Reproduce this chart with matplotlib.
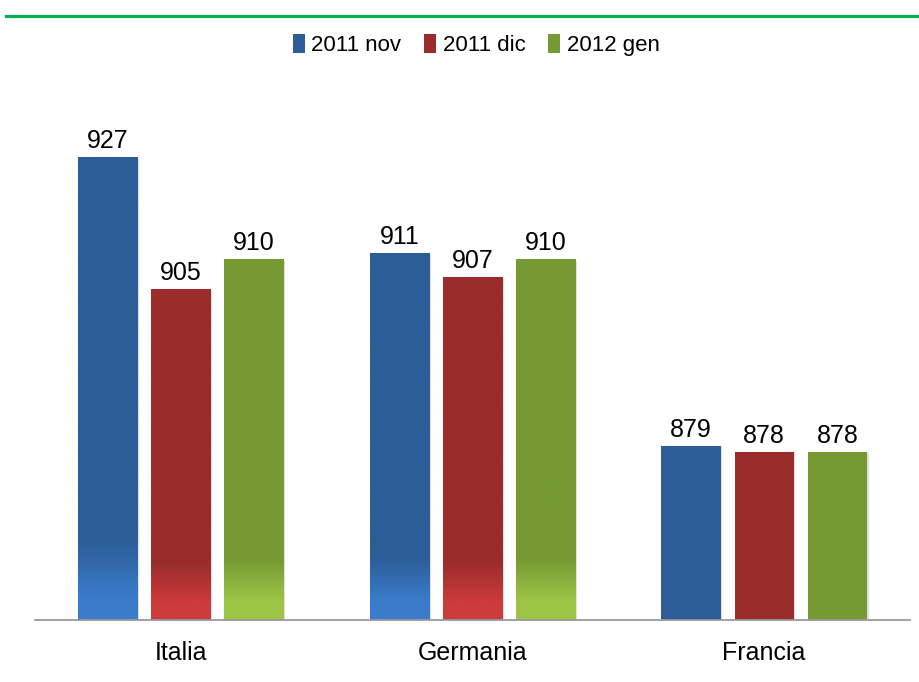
import numpy as np
import matplotlib
matplotlib.use("Agg")
import matplotlib.pyplot as plt
from matplotlib.patches import Patch
from matplotlib.lines import Line2D
from matplotlib.colors import to_rgb
import matplotlib.patheffects as pe

plt.rcParams['font.family'] = ['Liberation Sans Narrow', 'Liberation Sans', 'DejaVu Sans']

countries = ["Italia", "Germania", "Francia"]
series = ["2011 nov", "2011 dic", "2012 gen"]
nov_2011 = [927, 911, 879]
dic_2011 = [905, 907, 878]
gen_2012 = [910, 910, 878]
values = [nov_2011, dic_2011, gen_2012]

dark = ["#2C5D96", "#9A2C2C", "#779934"]
light = ["#3A7CCB", "#CE3B3B", "#9DC445"]
# countries whose bars carry the lighter fade at the base
faded = [True, True, False]

fig = plt.figure(figsize=(9.2, 6.82), dpi=100)
ax = fig.add_axes([35 / 920, 62 / 682, 875 / 920, 541 / 682])

x = np.arange(len(countries))
width = 0.203
step = 0.251
ymin, ymax = 850, 940

for i, (vals, c_dark, c_light) in enumerate(zip(values, dark, light)):
    bars = ax.bar(x + (i - 1) * step, np.array(vals) - ymin, width, bottom=ymin,
                  color=c_dark, zorder=2,
                  path_effects=[pe.SimplePatchShadow(offset=(1.2, -1.2), alpha=0.18,
                                                     shadow_rgbFace="#555555"),
                                pe.Normal()])
    for j, b in enumerate(bars):
        h = b.get_height()
        if faded[j]:
            n = 200
            t = np.linspace(0, 1, n)  # 0 at bottom, 1 at top
            frac = np.clip((t - 0.05) / (0.17 - 0.05), 0, 1)
            c0 = np.array(to_rgb(c_light))
            c1 = np.array(to_rgb(c_dark))
            img = (c0[None, :] * (1 - frac[:, None]) + c1[None, :] * frac[:, None])
            img = img[:, None, :]
            ax.imshow(img, origin="lower", aspect="auto", interpolation="bilinear",
                      extent=(b.get_x(), b.get_x() + b.get_width(), ymin, ymin + h),
                      zorder=2.5)
        ax.annotate(f"{vals[j]}", (b.get_x() + b.get_width() / 2, ymin + h),
                    xytext=(0, 3), textcoords="offset points",
                    ha="center", va="bottom", fontsize=18, color="black")

ax.set_xlim(-0.5, 2.5)
ax.set_ylim(ymin, ymax)
ax.set_xticks(x)
ax.set_xticklabels(countries, fontsize=18)
ax.tick_params(axis="x", length=0, pad=15)
ax.set_yticks([])
for s in ["top", "right", "left"]:
    ax.spines[s].set_visible(False)
ax.spines["bottom"].set_color("#999999")
ax.spines["bottom"].set_linewidth(1.3)
ax.spines["bottom"].set_zorder(3)
ax.patch.set_visible(False)

handles = [Patch(facecolor=c, edgecolor="none") for c in dark]
fig.legend(handles, series, loc="center", bbox_to_anchor=(476 / 920, 1 - 45 / 682),
           ncol=3, frameon=False, fontsize=16, handlelength=0.55, handleheight=0.9,
           handletextpad=0.3, columnspacing=1.0)

fig.add_artist(Line2D([6 / 920, 1.0], [1 - 15.5 / 682] * 2, transform=fig.transFigure,
                      color="#00B050", linewidth=2.3))

fig.savefig("out.png", dpi=100)
